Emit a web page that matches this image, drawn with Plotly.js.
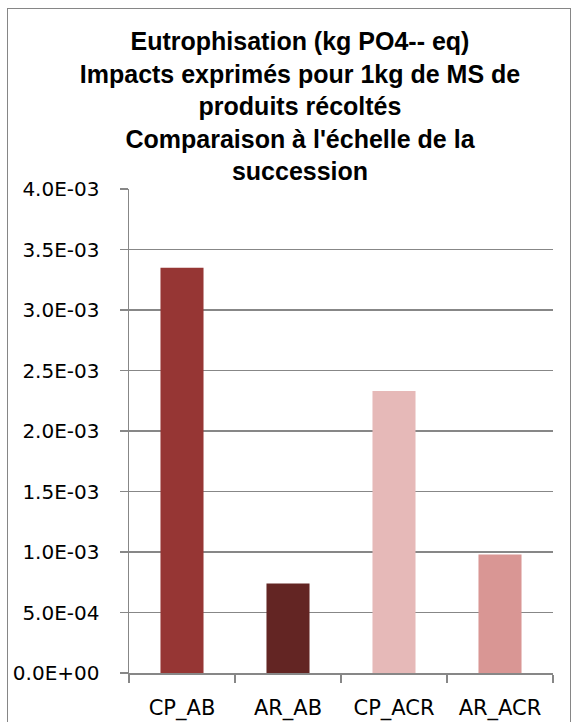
<!DOCTYPE html>
<html>
<head>
<meta charset="utf-8">
<script src="https://cdn.plot.ly/plotly-3.0.1.min.js"></script>
<style>
  html, body { margin: 0; padding: 0; background: #ffffff; overflow: hidden; }
  #wrap { position: relative; width: 579px; height: 722px; }
  #chart { position: absolute; left: 0; top: 0; width: 579px; height: 722px; }
  #frame { position: absolute; left: 7px; top: 8px; width: 562px; height: 740px;
           border: 1px solid #868686; pointer-events: none; }
</style>
</head>
<body>
<div id="wrap">
  <div id="chart"></div>
  <div id="frame"></div>
</div>
<script>
// ---- data ----
const categories = ['CP_AB', 'AR_AB', 'CP_ACR', 'AR_ACR'];
const values = [3.35e-3, 7.4e-4, 2.33e-3, 9.8e-4];
const yTickValues = [0, 0.0005, 0.001, 0.0015, 0.002, 0.0025, 0.003, 0.0035, 0.004];
const yTickLabels = ['0.0E+00', '5.0E-04', '1.0E-03', '1.5E-03', '2.0E-03', '2.5E-03', '3.0E-03', '3.5E-03', '4.0E-03'];
const titleLines = [
  'Eutrophisation (kg PO4-- eq)',
  'Impacts exprimés pour 1kg de MS de',
  'produits récoltés',
  "Comparaison à l'échelle de la",
  'succession'
];
// ---- styles ----
const barColors = ['#963634', '#632523', '#E6B9B8', '#D99694'];
const gridColor = '#878787';

const trace = {
  type: 'bar',
  x: categories,
  y: values,
  marker: { color: barColors, line: { width: 0 } },
  hoverinfo: 'x+y'
};

const layout = {
  width: 579,
  height: 722,
  paper_bgcolor: '#ffffff',
  plot_bgcolor: '#ffffff',
  margin: { l: 129, r: 26, t: 189, b: 49 },
  showlegend: false,
  bargap: 0.594,
  title: {
    text: titleLines.join('<br>'),
    font: { family: 'Liberation Sans, Arial, sans-serif', size: 25, color: '#000000', weight: 'bold' },
    x: 300 / 579,
    xanchor: 'center',
    xref: 'container',
    y: 1 - 50 / 722,
    yanchor: 'top',
    yref: 'container'
  },
  xaxis: {
    type: 'category',
    showgrid: false,
    showline: true,
    linecolor: gridColor,
    linewidth: 1.5,
    ticks: 'outside',
    tickson: 'boundaries',
    ticklen: 8,
    tickwidth: 1.5,
    tickcolor: gridColor,
    ticklabelstandoff: 15,
    tickfont: { family: 'DejaVu Sans, sans-serif', size: 21, color: '#000000' },
    zeroline: false,
    fixedrange: true
  },
  yaxis: {
    range: [0, 0.004],
    tickmode: 'array',
    tickvals: yTickValues,
    ticktext: yTickLabels,
    showgrid: true,
    gridcolor: gridColor,
    gridwidth: 1.5,
    showline: true,
    linecolor: gridColor,
    linewidth: 1.5,
    ticks: 'outside',
    ticklen: 8,
    tickwidth: 1.5,
    tickcolor: gridColor,
    ticklabelstandoff: 16,
    tickfont: { family: 'DejaVu Sans, sans-serif', size: 20, color: '#000000' },
    zeroline: false,
    fixedrange: true
  }
};

Plotly.newPlot('chart', [trace], layout, { displayModeBar: false, staticPlot: true });
</script>
</body>
</html>
